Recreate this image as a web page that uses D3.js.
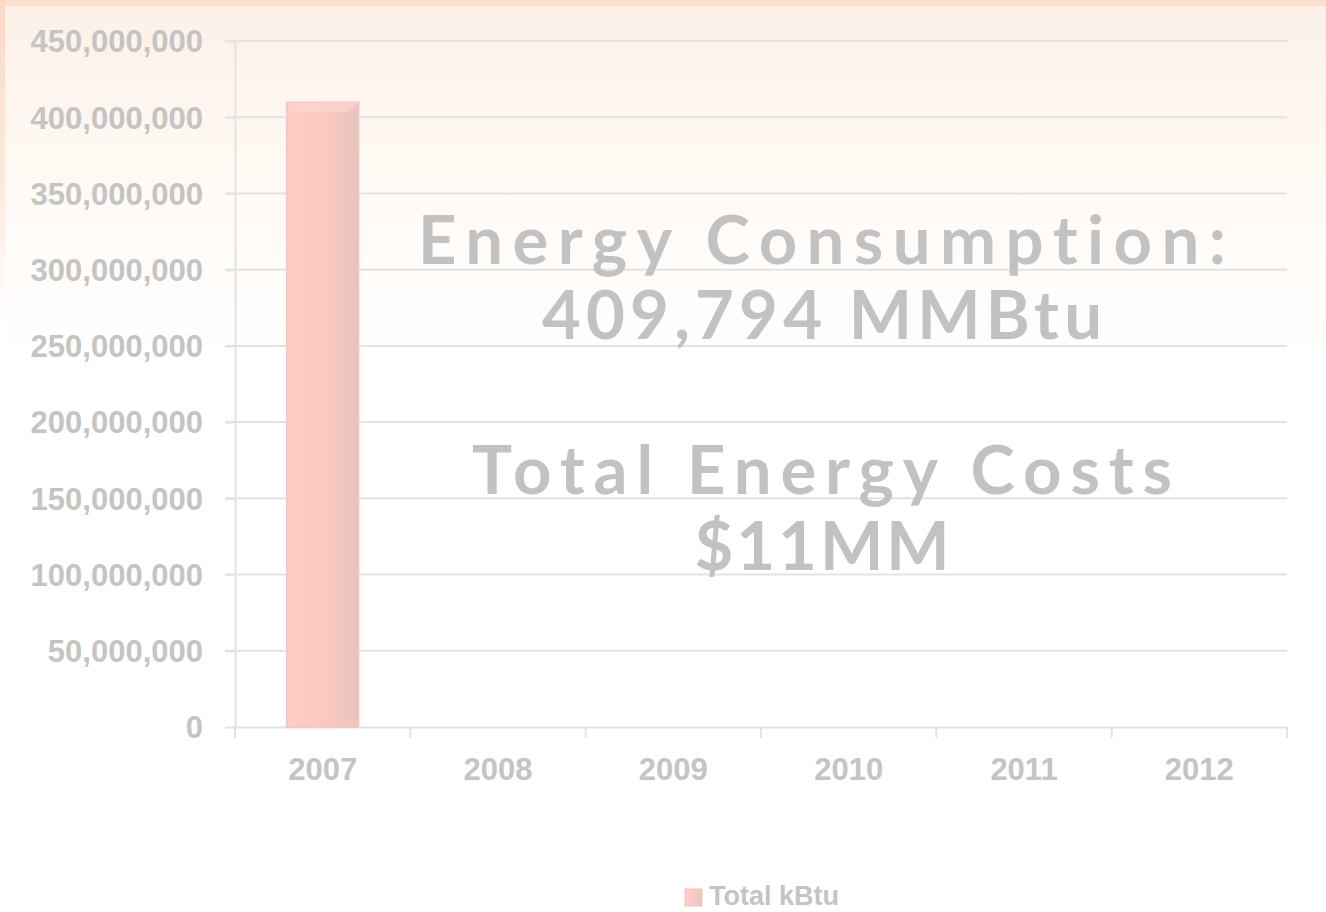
<!DOCTYPE html>
<html><head><meta charset="utf-8">
<script src="https://cdn.jsdelivr.net/npm/d3@7/dist/d3.min.js"></script>
<style>html,body{margin:0;padding:0;background:#fff;} text{font-variant-ligatures:none;font-feature-settings:"liga" 0;}</style>
</head><body>
<script>
const categories = ["2007","2008","2009","2010","2011","2012"];
const values = [409794000, null, null, null, null, null];
const yTicks = [0,50000000,100000000,150000000,200000000,250000000,300000000,350000000,400000000,450000000];
const seriesName = "Total kBtu";
const overlayLines = ["Energy Consumption:", "409,794 MMBtu", "", "Total Energy Costs", "$11MM"];

const W = 1326, H = 912;
const svg = d3.select("body").append("svg").attr("width", W).attr("height", H);
const defs = svg.append("defs");

const bg = defs.append("linearGradient").attr("id","bg").attr("x1",0).attr("y1",0).attr("x2",0).attr("y2",1);
bg.append("stop").attr("offset","0").attr("stop-color","#fdf1e8");
bg.append("stop").attr("offset","0.22").attr("stop-color","#fffaf6");
bg.append("stop").attr("offset","0.4").attr("stop-color","#ffffff");
const lg = defs.append("linearGradient").attr("id","leftg").attr("x1",0).attr("y1",0).attr("x2",0).attr("y2",1);
lg.append("stop").attr("offset","0").attr("stop-color","#fbd9c3");
lg.append("stop").attr("offset","0.2").attr("stop-color","#fde9dc");
lg.append("stop").attr("offset","0.35").attr("stop-color","#ffffff");
const barG = defs.append("linearGradient").attr("id","barg").attr("x1",0).attr("y1",0).attr("x2",1).attr("y2",0);
barG.append("stop").attr("offset","0").attr("stop-color","#ffcdc4");
barG.append("stop").attr("offset","0.5").attr("stop-color","#fbc9c1");
barG.append("stop").attr("offset","1").attr("stop-color","#e9c3bf");

svg.append("rect").attr("width",W).attr("height",H).attr("fill","url(#bg)");
svg.append("rect").attr("x",0).attr("y",0).attr("width",W).attr("height",6).attr("fill","#fde1cc");
svg.append("rect").attr("x",0).attr("y",0).attr("width",5).attr("height",H).attr("fill","url(#leftg)");

const m = {left:235, right:1287, top:41, bottom:727};
const x = d3.scaleBand().domain(categories).range([m.left, m.right]).paddingInner(0).paddingOuter(0);
const y = d3.scaleLinear().domain([0,450000000]).range([m.bottom, m.top]);

const fmt = d3.format(",");
const labelFont = "Liberation Sans, Arial, sans-serif";
svg.append("g").selectAll("line").data(yTicks.filter(d=>d>0)).join("line")
  .attr("x1", m.left-10).attr("x2", m.right)
  .attr("y1", d=>y(d)).attr("y2", d=>y(d))
  .attr("stroke","#e3e3e3").attr("stroke-width",2);

const yAxis = svg.append("g").attr("transform",`translate(${m.left},0)`)
  .call(d3.axisLeft(y).tickValues(yTicks).tickFormat(fmt).tickSize(0).tickPadding(32));
yAxis.select(".domain").attr("stroke","#e3e3e3").attr("stroke-width",2);
yAxis.selectAll("text").attr("fill","#c4c4c4").attr("font-family",labelFont)
  .attr("font-weight","bold").attr("font-size","31px").attr("dy","0.35em");
yAxis.selectAll(".tick line").remove();
yAxis.selectAll(".tick").append("line").attr("x1",-10).attr("x2",0).attr("stroke","#e3e3e3").attr("stroke-width",2);

const xAxis = svg.append("g").attr("transform",`translate(0,${m.bottom})`)
  .call(d3.axisBottom(x).tickSize(0).tickPadding(31));
xAxis.select(".domain").attr("stroke","#e3e3e3").attr("stroke-width",2);
xAxis.selectAll("text").attr("fill","#c4c4c4").attr("font-family",labelFont)
  .attr("font-weight","bold").attr("font-size","31px");
const boundaries = categories.map(c=>x(c)).concat([x(categories[categories.length-1])+x.bandwidth()]);
xAxis.append("g").selectAll("line").data(boundaries).join("line")
  .attr("x1",d=>d).attr("x2",d=>d).attr("y1",0).attr("y2",11)
  .attr("stroke","#e3e3e3").attr("stroke-width",2);

// bars
const bw = x.bandwidth()*0.41;
const barData = categories.map((c,i)=>({c,v:values[i]})).filter(d=>d.v!=null);
const bars = svg.append("g");
bars.selectAll("rect").data(barData).join("rect")
  .attr("x", d=>x(d.c)+(x.bandwidth()-bw)/2)
  .attr("y", d=>y(d.v))
  .attr("width", bw)
  .attr("height", d=>y(0)-y(d.v))
  .attr("fill","url(#barg)")
  .attr("stroke","#efc6c0").attr("stroke-width",1.5);
bars.selectAll("path").data(barData).join("path")
  .attr("d", d=>{
    const x0 = x(d.c)+(x.bandwidth()-bw)/2, x1 = x0+bw, t = y(d.v), b = 10;
    return `M${x0},${t}L${x1},${t}L${x1-b},${t+b}L${x0+b},${t+b}Z`;
  })
  .attr("fill","#fbd3cc").attr("opacity",0.8);

// overlay text
const ox = 822;
const oy = [264, 339, null, 494, 570];
const ow = [808, 560, null, 700, 255];
const ot = svg.append("g");
overlayLines.forEach((t,i)=>{
  if(!t) return;
  ot.append("text").attr("x",ox).attr("y",oy[i]).attr("text-anchor","middle")
    .attr("font-family","Lato, 'Open Sans', sans-serif").attr("font-weight","bold")
    .attr("font-size","67px").attr("fill","#c2c2c2")
    .attr("textLength", ow[i]).attr("lengthAdjust","spacing")
    .text(t);
});

// legend
const leg = svg.append("g");
leg.append("rect").attr("x",685).attr("y",889).attr("width",17).attr("height",17).attr("fill","url(#barg)").attr("stroke","#efc6c0");
leg.append("text").attr("x",709).attr("y",905).attr("fill","#c4c4c4")
  .attr("font-family",labelFont).attr("font-weight","bold").attr("font-size","27px").text(seriesName);
</script>
</body></html>
